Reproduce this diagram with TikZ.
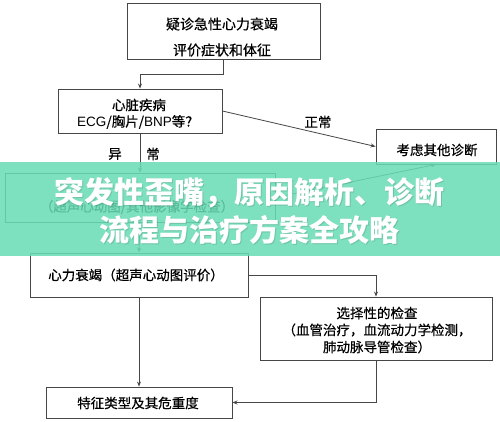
\documentclass[tikz,border=0pt]{standalone}
\usepackage{fontspec}
\setmainfont{Noto Sans CJK SC}[FakeBold=0.5]
\newfontfamily\lat{Liberation Sans}
\newfontfamily\banfont{Noto Sans CJK SC}
\usetikzlibrary{arrows.meta}
\definecolor{linegray}{RGB}{70,70,70}
\definecolor{bannergreen}{RGB}{104,220,180}
\begin{document}
\begin{tikzpicture}[x=1pt,y=-1pt,
  box/.style={draw=linegray,line width=0.9pt,fill=white,inner sep=0pt},
  txt/.style={inner sep=0pt,align=center,font=\fontsize{13.5}{17}\selectfont},
  arr/.style={draw=linegray,line width=0.8pt,-{Stealth[length=5pt,width=4pt]}},
  lbl/.style={font=\fontsize{13.5}{16}\selectfont,inner sep=0pt},
  ban/.style={font=\banfont\fontsize{30}{34}\selectfont\bfseries,text=white,inner sep=0pt}]
\useasboundingbox (0,0) rectangle (500,422);
\fill[white] (0,0) rectangle (500,422);
% boxes
\node[box,minimum width=193pt,minimum height=56pt] (b1) at (223.5,31) {};
\node[box,minimum width=164pt,minimum height=44pt] (b2) at (140,111) {};
\node[box,minimum width=120pt,minimum height=35pt] (oth) at (436,146.5) {};
\node[box,minimum width=270pt,minimum height=49pt] (b3) at (140,197.5) {};
\node[box,minimum width=218pt,minimum height=44pt] (b4) at (139,275) {};
\node[box,minimum width=232pt,minimum height=63pt] (b5) at (376,328.5) {};
\node[box,minimum width=186pt,minimum height=31pt] (b6) at (139,402.5) {};
% texts
\node[txt,font=\fontsize{14}{16}\selectfont] (t1a) at (222,24) {疑诊急性心力衰竭};
\node[txt,font=\fontsize{14}{16}\selectfont] (t1b) at (222,50) {评价症状和体征};
\node[txt] (t2a) at (139,105) {心脏疾病};
\node[txt] (t2b) at (138,122) {{\lat ECG}/胸片/{\lat BNP}等？};
\node[txt] (toth) at (437,150) {考虑其他诊断};
\node[txt] (t3) at (137,207) {（超声心动图/其他影像学检查）};
\node[txt] (t4) at (136,275) {心力衰竭（超声心动图评价）};
\node[txt] (t5a) at (377,313) {选择性的检查};
\node[txt] (t5b) at (377,330) {（血管治疗，血流动力学检测，};
\node[txt] (t5c) at (377,347) {肺动脉导管检查）};
\node[txt] (t6) at (138,403) {特征类型及其危重度};
% connectors
\draw[arr] (b1.south) -- ++(0,15) -| (b2.north);
\draw[arr] (b2.east) -- (oth.west);
\node[lbl] (ln) at (318,122) {正常};
\draw[arr] (b2.south) -- (b3.north);
\node[lbl] (la) at (115,154) {异};
\node[lbl] (lb) at (153,154) {常};
\draw[arr] (b3.east) -- (oth.south);
\draw[arr] (b3.south) -- (b4.north);
\draw[arr] (b4.east) -| (b5.north);
\draw[arr] (b4.south) -- (b6.north);
\draw[arr] (b5.south) |- (b6.east);
% banner
\fill[bannergreen,opacity=0.86] (0,162) rectangle (500,256);
\node[ban,text=black,opacity=0.12] (t1s) at (250,194) {突发性歪嘴，原因解析、诊断};
\node[ban,text=black,opacity=0.12] (t2s) at (250,231) {流程与治疗方案全攻略};
\node[ban] (bt1) at (249,193) {突发性歪嘴，原因解析、诊断};
\node[ban] (bt2) at (249,230) {流程与治疗方案全攻略};
\end{tikzpicture}
\end{document}
